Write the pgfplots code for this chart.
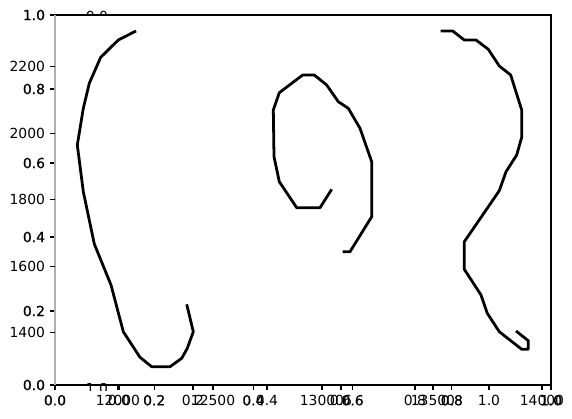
\documentclass[border=0pt]{standalone}
\usepackage{fontspec}
\setmainfont{DejaVu Sans}
\newfontfamily\dbl[FakeBold=0.6]{DejaVu Sans}
\usepackage{pgfplots}
\pgfplotsset{compat=1.18}
\definecolor{spinegray}{RGB}{176,176,176}
\pgfplotsset{
  base/.style={scale only axis, width=357.12pt, height=266.4pt,
    at={(39.6pt,23.76pt)}, anchor=south west,
    tick align=outside, major tick length=3.5pt,
    xtick pos=left, ytick pos=left,
    scaled ticks=false,
    every tick/.style={line width=0.8pt, black},
    ticklabel style={font=\fontsize{10}{12}\selectfont},
    xticklabel style={inner sep=0pt, yshift=-3.5pt},
    yticklabel style={inner sep=0pt, xshift=-3.5pt},
    axis line style={draw=none},
    clip=false},
  curve/.style={black, line width=2pt, line join=round, mark=none}
}
\begin{document}
\begin{tikzpicture}
\path[use as bounding box] (0,0) rectangle (411.84pt,300.96pt);
% main 0..1 frame
\begin{axis}[base, xmin=0, xmax=1, ymin=0, ymax=1,
  xtick={0,0.2,0.4,0.6,0.8,1}, xticklabels={0.0,0.2,0.4,0.6,0.8,1.0},
  ytick={0,0.2,0.4,0.6,0.8,1}, yticklabels={0.0,0.2,0.4,0.6,0.8,1.0},
  ticklabel style={font=\dbl\fontsize{10}{12}\selectfont}]
\draw[line width=0.8pt] (rel axis cs:0,0) -- (rel axis cs:1,0) -- (rel axis cs:1,1) -- (rel axis cs:0,1);
\draw[line width=0.8pt, spinegray] (rel axis cs:0,0) -- (rel axis cs:0,1);
\end{axis}
% thin 0..1 axis
\begin{axis}[base, xmin=-0.17297, xmax=1.16757, ymin=0, ymax=1,
  xtick={0,0.2,0.4,0.6,0.8,1}, xticklabels={0.0,0.2,0.4,0.6,0.8,1.0}, ytick=\empty]
\end{axis}
% left subplot
\begin{axis}[base, xmin=11668.4, xmax=14278.9, ymin=1242.7, ymax=2355.5,
  xtick={12000,12500}, xticklabels={12000,12500},
  ytick={1400,1600,1800,2000,2200}, yticklabels={1400,1600,1800,2000,2200}]
\addplot[curve] coordinates {
(12094.7,2307.4) (12001.6,2280.3) (11908.9,2228.3) (11848.9,2150.1) (11817.4,2074.9)
(11785.8,1964.5) (11817.4,1824.1) (11875.3,1666.8) (11963.2,1543.5) (12027.9,1403.0)
(12115.8,1326.0) (12177.4,1297.7) (12273.7,1297.7) (12335.3,1323.0) (12364.7,1353.1)
(12396.3,1403.0) (12361.6,1485.4)};
\end{axis}
% middle subplot
\begin{axis}[base, xmin=11691.7, xmax=14122.1, ymin=1242.7, ymax=2355.5,
  xtick={13000}, xticklabels={13000}, ytick=\empty]
\addplot[curve] coordinates {
(13047.5,1831.3) (12990.2,1775.9) (12876.0,1775.9) (12790.8,1854.1) (12764.8,1929.3)
(12761.4,2069.8) (12790.8,2121.8) (12905.4,2175.0) (12962.3,2175.0) (13023.0,2144.9)
(13079.9,2094.7) (13128.9,2074.9) (13186.2,2014.7) (13243.5,1914.3) (13243.5,1748.9)
(13137.2,1643.6) (13101.4,1643.6)};
\end{axis}
% right subplot
\begin{axis}[base, xmin=11766.1, xmax=14041.3, ymin=1242.7, ymax=2355.5,
  xtick={13500,14000}, xticklabels={13500,14000}, ytick=\empty]
\addplot[curve] coordinates {
(13535.3,2307.4) (13590.4,2307.4) (13643.6,2280.3) (13697.2,2280.3) (13753.7,2252.3)
(13804.1,2202.1) (13856.4,2175.0) (13906.9,2069.8) (13906.9,1987.7) (13883.9,1934.4)
(13834.9,1884.2) (13804.1,1827.1) (13643.6,1673.7) (13643.6,1590.7) (13720.2,1513.4)
(13749.1,1458.3) (13804.1,1403.0) (13906.9,1350.1) (13937.1,1350.1) (13937.1,1375.9)
(13880.7,1405.1)};
\end{axis}
% partially hidden labels
\begin{scope}
\clip (55pt,290.16pt) rectangle (85pt,300.96pt);
\node[anchor=north, inner sep=0pt, font=\fontsize{10}{12}\selectfont] at (69.84pt,292.8pt) {0.0};
\end{scope}
\begin{scope}
\clip (55pt,20.16pt) rectangle (85pt,25.2pt);
\node[anchor=north, inner sep=0pt, font=\fontsize{10}{12}\selectfont] at (69.84pt,24.98pt) {1.0};
\end{scope}
\end{tikzpicture}
\end{document}
